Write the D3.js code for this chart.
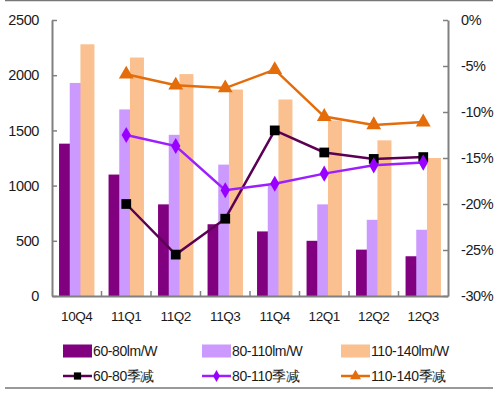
<!DOCTYPE html>
<html>
<head>
<meta charset="utf-8">
<script src="https://cdn.jsdelivr.net/npm/d3@7"></script>
<style>
  body { margin: 0; background: #fff; }
  text { font-family: "Liberation Sans", Arial, sans-serif; fill: #1a1a1a; }
</style>
</head>
<body>
<div id="chart"></div>
<script>
var quarters = ["10Q4", "11Q1", "11Q2", "11Q3", "11Q4", "12Q1", "12Q2", "12Q3"];
var bars6080 = [1380, 1100, 830, 650, 585, 500, 420, 360];
var bars80110 = [1930, 1690, 1460, 1190, 1000, 830, 690, 600];
var bars110140 = [2280, 2160, 2010, 1870, 1780, 1590, 1410, 1250];
// quarterly decline, % (no value for 10Q4)
var qoq6080 = [null, -20.0, -25.5, -21.6, -12.0, -14.4, -15.1, -14.9];
var qoq80110 = [null, -12.5, -13.7, -18.5, -17.8, -16.7, -15.8, -15.5];
var qoq110140 = [null, -5.9, -7.1, -7.4, -5.4, -10.5, -11.4, -11.1];
var leftTicks = [0, 500, 1000, 1500, 2000, 2500];
var rightTicks = [0, -5, -10, -15, -20, -25, -30];

var width = 498, height = 395;
var margin = { top: 20, right: 50, bottom: 99, left: 52 };
var chartWidth = width - margin.left - margin.right;
var chartHeight = height - margin.top - margin.bottom;

var svg = d3.select("#chart").append("svg")
    .attr("width", width)
    .attr("height", height);

// frame lines top and bottom
svg.append("line").attr("x1", 5).attr("x2", 493).attr("y1", 0.5).attr("y2", 0.5)
    .attr("stroke", "#777").attr("stroke-width", 1.5);
svg.append("line").attr("x1", 5).attr("x2", 493).attr("y1", 388).attr("y2", 388)
    .attr("stroke", "#777").attr("stroke-width", 1.5);

var chartGroup = svg.append("g")
    .attr("transform", `translate(${margin.left}, ${margin.top})`);

var x = d3.scaleBand().domain(quarters).range([0, chartWidth]);
var yLeft = d3.scaleLinear().domain([0, 2500]).range([chartHeight, 0]);
var yRight = d3.scaleLinear().domain([-30, 0]).range([chartHeight, 0]);

var barColors = ["#800080", "#CC99FF", "#FAC090"];
var barSeries = [bars6080, bars80110, bars110140];
var barW = 14, barStep = 10.7;

barSeries.forEach(function(vals, i) {
    chartGroup.selectAll(".bar" + i)
        .data(vals)
        .enter()
        .append("rect")
        .attr("x", (d, j) => x(quarters[j]) + x.bandwidth() / 2 - (barStep * 2 + barW) / 2 + i * barStep)
        .attr("y", d => yLeft(d))
        .attr("width", barW)
        .attr("height", d => chartHeight - yLeft(d))
        .attr("fill", barColors[i]);
});

// axes
var axisColor = "#808080";
function styleAxis(g) {
    g.select(".domain").attr("stroke", axisColor).attr("stroke-width", 2);
    g.selectAll(".tick line").attr("stroke", axisColor).attr("stroke-width", 1.5);
    g.selectAll("text").style("font-size", "14.5px").style("letter-spacing", "-0.4px").attr("fill", "#1a1a1a");
}

var leftAxis = chartGroup.append("g")
    .call(d3.axisLeft(yLeft).tickValues(leftTicks).tickSize(-5).tickSizeOuter(0)
        .tickPadding(13).tickFormat(d3.format("d")));
styleAxis(leftAxis);

var rightAxis = chartGroup.append("g")
    .attr("transform", `translate(${chartWidth},0)`)
    .call(d3.axisRight(yRight).tickValues(rightTicks).tickSize(-5).tickSizeOuter(0)
        .tickPadding(13).tickFormat(d => d + "%"));
styleAxis(rightAxis);

var bottomAxis = chartGroup.append("g")
    .attr("transform", `translate(0,${chartHeight})`)
    .call(d3.axisBottom(x).tickSize(0).tickPadding(15));
styleAxis(bottomAxis);
bottomAxis.selectAll("text").style("font-size", "13.5px");
// category separators, pointing up
chartGroup.append("g").selectAll("line")
    .data(quarters.slice(1))
    .enter()
    .append("line")
    .attr("x1", d => x(d)).attr("x2", d => x(d))
    .attr("y1", chartHeight).attr("y2", chartHeight - 5)
    .attr("stroke", axisColor).attr("stroke-width", 1.5);

// lines on right axis
var line = d3.line()
    .defined(d => d != null)
    .x((d, j) => x(quarters[j]) + x.bandwidth() / 2)
    .y(d => yRight(d));

var lineSeries = [
    { vals: qoq6080, color: "#5C0054", marker: "square", fill: "#000" },
    { vals: qoq80110, color: "#9B1FFF", marker: "diamond", fill: "#9900FF" },
    { vals: qoq110140, color: "#E46C0A", marker: "triangle", fill: "#E46C0A" }
];
var symbolType = { square: d3.symbolSquare, diamond: d3.symbolDiamond, triangle: d3.symbolTriangle };
var symbolSize = { square: 95, diamond: 75, triangle: 95 };

lineSeries.forEach(function(s) {
    chartGroup.append("path")
        .datum(s.vals)
        .attr("d", line)
        .attr("fill", "none")
        .attr("stroke", s.color)
        .attr("stroke-width", 2.5);
    chartGroup.selectAll(".m-" + s.marker)
        .data(s.vals.map((v, j) => ({ v: v, q: quarters[j] })).filter(d => d.v != null))
        .enter()
        .append("path")
        .attr("d", d3.symbol().type(symbolType[s.marker]).size(symbolSize[s.marker]))
        .attr("transform", d => `translate(${x(d.q) + x.bandwidth() / 2},${yRight(d.v)})`)
        .attr("fill", s.fill);
});

// legend
var legendItems = [
    { label: "60-80lm/W", type: "bar", color: barColors[0] },
    { label: "80-110lm/W", type: "bar", color: barColors[1] },
    { label: "110-140lm/W", type: "bar", color: barColors[2] },
    { label: "60-80季减", type: "line", s: lineSeries[0] },
    { label: "80-110季减", type: "line", s: lineSeries[1] },
    { label: "110-140季减", type: "line", s: lineSeries[2] }
];
var colX = [63, 202, 341];
var rowY = [351, 376];

legendItems.forEach(function(item, i) {
    var lx = colX[i % 3], ly = rowY[Math.floor(i / 3)];
    var g = svg.append("g").attr("transform", `translate(${lx},${ly})`);
    if (item.type === "bar") {
        g.append("rect").attr("x", 0).attr("y", -6.5).attr("width", 29).attr("height", 13)
            .attr("fill", item.color);
    } else {
        g.append("line").attr("x1", 0).attr("x2", 29).attr("y1", 0).attr("y2", 0)
            .attr("stroke", item.s.color).attr("stroke-width", 2.5);
        g.append("path")
            .attr("d", d3.symbol().type(symbolType[item.s.marker]).size(symbolSize[item.s.marker] * 0.55))
            .attr("transform", "translate(14.5,0)")
            .attr("fill", item.s.fill);
    }
    g.append("text").attr("x", 30).attr("y", 5).style("font-size", "14px")
        .style("letter-spacing", "-0.4px").text(item.label);
});
</script>
</body>
</html>
